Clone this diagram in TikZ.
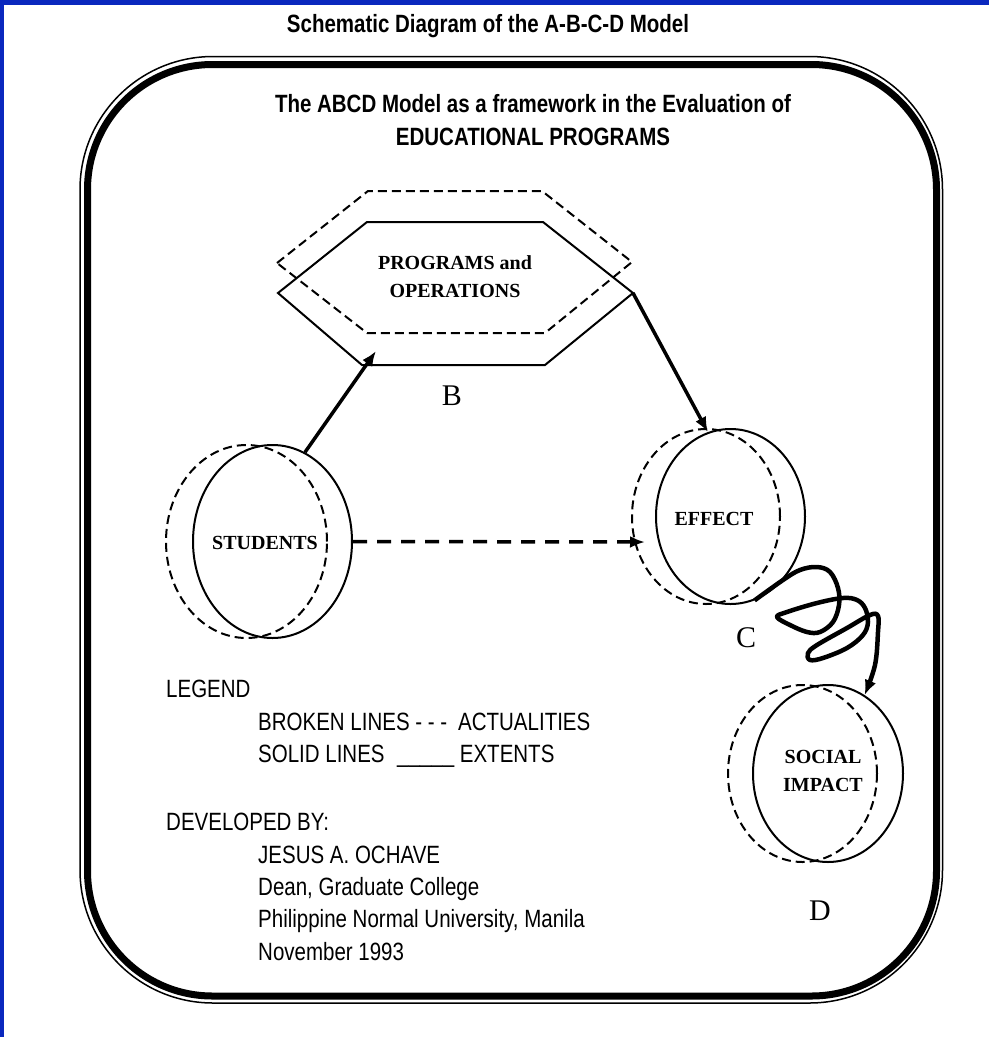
\documentclass[tikz,border=0pt]{standalone}
\usepackage{fontspec}
\setmainfont{Liberation Serif}
\newfontfamily\narrowsf[FakeStretch=0.82]{Liberation Sans}
\usepackage{tikz}
\usetikzlibrary{arrows.meta,shapes.geometric}
\definecolor{slideblue}{RGB}{10,40,190}
\tikzstyle{heading}=[anchor=base,inner sep=0pt,font=\narrowsf\bfseries\fontsize{25}{29}\selectfont]
\tikzstyle{legendtext}=[anchor=base west,inner sep=0pt,font=\narrowsf\fontsize{25}{29}\selectfont]
\tikzstyle{boxtext}=[inner sep=0pt,align=center,font=\bfseries\fontsize{20}{28}\selectfont]
\tikzstyle{letter}=[anchor=base,inner sep=0pt,font=\fontsize{30}{34}\selectfont]
\tikzstyle{solidshape}=[draw,line width=2pt,line join=miter]
\tikzstyle{brokenshape}=[draw,line width=2pt,dash pattern=on 9pt off 5pt]
\tikzstyle{extent}=[ellipse,draw,line width=2pt,inner sep=0pt]
\tikzstyle{actual}=[ellipse,draw,line width=2pt,dash pattern=on 9pt off 5pt,inner sep=0pt]
\tikzstyle{flow}=[draw,line width=3.5pt,-{Latex[length=15pt,width=12pt]}]

\begin{document}
\begin{tikzpicture}[x=1pt,y=-1pt]
        \fill[slideblue] (0,0) rectangle (989,1037);
        \fill[white] (4,5) rectangle (989,1037);
        \useasboundingbox (0,0) rectangle (989,1037);
        \draw[line width=1.5pt,rounded corners=133pt] (80,56.5) rectangle (942.5,1003);
        \draw[line width=7pt,rounded corners=125pt] (87.5,64.5) rectangle (936.5,996);

        \node[heading] (title) at (488,32) {Schematic Diagram of the A-B-C-D Model};
        \node[heading] (sub1) at (533,112) {The ABCD Model as a framework in the Evaluation of};
        \node[heading] (sub2) at (533,145) {EDUCATIONAL PROGRAMS};

        \draw[brokenshape] (277,263) -- (368,191) -- (542,191) -- (632,262) -- (545,333) -- (367,333) -- cycle;
        \coordinate (hexL) at (278,293);
        \coordinate (hexTL) at (367,222);
        \coordinate (hexTR) at (543,222);
        \coordinate (hexR) at (633,293);
        \coordinate (hexBR) at (545,365);
        \coordinate (hexBL) at (362,365);
        \draw[solidshape] (hexL) -- (hexTL) -- (hexTR) -- (hexR) -- (hexBR) -- (hexBL) -- cycle;
        \node[boxtext] (prog) at (455,277) {PROGRAMS and\\OPERATIONS};
        \coordinate (progIn) at (376,351);

        \node[actual,minimum width=161pt,minimum height=193pt] (studentsA) at (246.5,541.5) {};
        \node[extent,minimum width=159pt,minimum height=193pt] (students) at (272.5,541.5) {};
        \node[actual,minimum width=148pt,minimum height=175pt] (effectA) at (706,516.5) {};
        \node[extent,minimum width=149pt,minimum height=175pt] (effect) at (730.5,516.5) {};
        \node[actual,minimum width=149pt,minimum height=177pt] (impactA) at (802.5,773.5) {};
        \node[extent,minimum width=150pt,minimum height=177pt] (impact) at (828,773.5) {};

        \node[boxtext,anchor=base] (studentsT) at (265,549) {STUDENTS};
        \node[boxtext,anchor=base] (effectT) at (714,525) {EFFECT};
        \node[boxtext] (impactT) at (823,771) {SOCIAL\\IMPACT};
        \coordinate (effIn) at (645,542);

        \draw[flow] (students.70) -- (progIn);
        \draw[flow] (hexR) -- (effect.105);
        \draw[flow,dash pattern=on 14pt off 10pt] (students.east) -- (effIn);
        \draw[flow,line width=4.5pt,line join=round] plot[smooth,tension=0.6] coordinates {(effect.-74) (783,580) (800,570) (817,567) (830,572) (838,588) (839,605) (833,622) (820,632) (807,632) (790,625) (777,617) (787,612) (817,603) (843,598) (857,600) (865,608) (868,622) (863,635) (847,648) (823,658) (810,660) (808,653) (817,645) (847,628) (870,615) (878,616) (878,632) (875,665) (impact.65)};

        \node[letter] (labB) at (452,405) {B};
        \node[letter] (labC) at (746,647) {C};
        \node[letter] (labD) at (820,920) {D};

        \node[legendtext] (legend) at (166,697) {LEGEND};
        \node[legendtext] (broken) at (258,730) {\makebox[200pt][l]{BROKEN LINES - - -}ACTUALITIES};
        \node[legendtext] (solid) at (258,762) {\makebox[139pt][l]{SOLID LINES}\_\_\_\_\_ EXTENTS};
        \node[legendtext] (devby) at (166,830) {DEVELOPED BY:};
        \node[legendtext] (author) at (258,863) {JESUS A. OCHAVE};
        \node[legendtext] (dean) at (258,895) {Dean, Graduate College};
        \node[legendtext] (school) at (258,927) {Philippine Normal University, Manila};
        \node[legendtext] (date) at (258,960) {November 1993};
      \end{tikzpicture}
\end{document}
